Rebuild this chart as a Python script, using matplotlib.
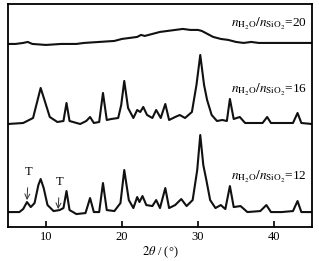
import matplotlib
matplotlib.use("Agg")
import matplotlib.pyplot as plt

plt.rcParams['font.family'] = ['Liberation Serif', 'DejaVu Serif']
plt.rcParams['mathtext.fontset'] = 'stix'

# 2theta / intensity (arbitrary units, curves already stacked)
tt_12 = [5.0, 6.5, 7.0, 7.5, 8.0, 8.5, 9.0, 9.3, 9.7, 10.2, 11.0, 11.8, 12.3, 12.7, 13.1,
         14.0, 15.2, 15.8, 16.3, 17.0, 17.5, 18.0, 19.0, 19.8, 20.3, 20.9, 21.5, 22.0, 22.3,
         22.7, 23.2, 24.0, 24.5, 25.0, 25.7, 26.2, 27.0, 27.8, 28.5, 29.3, 29.9, 30.3, 30.7,
         31.1, 31.6, 32.3, 33.0, 33.6, 34.2, 34.7, 35.6, 36.5, 38.2, 39.0, 39.6, 41.0, 42.5,
         43.1, 43.6, 45.0]
int_12 = [15, 15, 18, 25, 20, 24, 42, 48, 39, 22, 16, 17, 19, 36, 17,
          13, 14, 29, 15, 15, 44, 17, 16, 24, 57, 27, 19, 30, 25,
          31, 22, 21, 27, 19, 39, 19, 22, 28, 21, 27, 57, 92, 62,
          47, 27, 19, 22, 18, 41, 20, 21, 15, 16, 22, 15, 15, 16,
          26, 15, 15]

tt_16 = [5.0, 7.0, 8.3, 8.9, 9.3, 9.8, 10.5, 11.5, 12.3, 12.7, 13.1, 14.5, 15.3, 15.8,
         16.3, 17.0, 17.5, 18.0, 18.6, 19.5, 19.9, 20.3, 20.8, 21.5, 22.0, 22.4, 22.8, 23.3,
         24.0, 24.5, 25.1, 25.7, 26.2, 27.0, 27.6, 28.3, 29.2, 29.8, 30.3, 30.8, 31.2, 31.8,
         32.5, 33.2, 33.8, 34.2, 34.7, 35.5, 36.2, 38.5, 39.1, 39.6, 42.5, 43.1, 43.6, 45.0]
int_16 = [103, 104, 109, 127, 139, 127, 110, 105, 106, 124, 106, 103, 106, 110,
          104, 105, 134, 107, 108, 109, 122, 146, 119, 109, 117, 115, 120, 112,
          109, 117, 109, 123, 107, 110, 112, 109, 115, 142, 172, 142, 127, 112,
          106, 107, 106, 128, 108, 110, 104, 104, 110, 104, 104, 114, 104, 103]

tt_20 = [5.0, 6.0, 7.0, 7.6, 8.2, 10.0, 12.0, 14.0, 15.0, 17.0, 19.0, 20.0, 21.0, 22.0,
         22.5, 23.0, 24.0, 25.0, 26.0, 27.0, 28.0, 29.0, 30.0, 30.5, 31.0, 32.0, 33.0, 34.0,
         35.0, 36.0, 37.0, 38.0, 40.0, 42.0, 45.0]
int_20 = [183, 183, 184, 185, 183, 182, 183, 183, 184, 185, 186, 188, 189, 190,
          192, 191, 193, 195, 196, 197, 198, 197, 197, 196, 194, 190, 188, 187,
          185, 184, 185, 184, 184, 184, 184]

labels = ['20', '16', '12']

fig = plt.figure(figsize=(3.19, 2.61), dpi=100)
ax = fig.add_axes([0.025, 0.130, 0.953, 0.855])

for tt, inten in [(tt_20, int_20), (tt_16, int_16), (tt_12, int_12)]:
    ax.plot(tt, inten, color='#111111', lw=1.5)

lab_y = [203, 137, 50]
for lab, y in zip(labels, lab_y):
    ax.text(34.4, y, r'$n_{\mathrm{H_2O}}/n_{\mathrm{SiO_2}}$=' + lab,
            fontsize=9.5, va='center', ha='left')

# T markers
ax.annotate('T', xy=(7.5, 27), xytext=(7.7, 55), fontsize=9, ha='center', va='center',
            arrowprops=dict(arrowstyle='->', lw=0.7, color='#333333', shrinkA=5, shrinkB=0))
ax.annotate('T', xy=(11.6, 18), xytext=(11.8, 45), fontsize=9, ha='center', va='center',
            arrowprops=dict(arrowstyle='->', lw=0.7, color='#333333', shrinkA=5, shrinkB=0))

ax.set_xlim(5, 45)
ax.set_ylim(0, 223)
ax.set_xticks([10, 20, 30, 40])
ax.set_yticks([])
ax.tick_params(axis='x', direction='in', length=4, width=1.2, labelsize=9, pad=3, top=False)
for s in ax.spines.values():
    s.set_linewidth(1.3)
ax.set_xlabel(r'$2\theta$ / (°)', fontsize=9, labelpad=1)

fig.savefig('out.png', dpi=100)
